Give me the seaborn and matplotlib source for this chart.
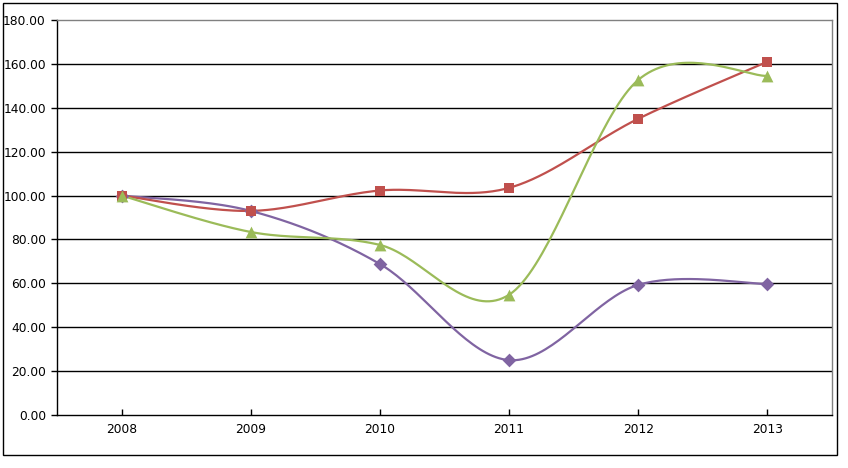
import numpy as np
import pandas as pd
import matplotlib
matplotlib.use("Agg")
import matplotlib.pyplot as plt
import seaborn as sns
from matplotlib.patches import Rectangle

years = ["2008", "2009", "2010", "2011", "2012", "2013"]
purple_vals = [100.0, 93.0, 68.8, 25.0, 59.3, 59.7]
red_vals = [100.0, 93.0, 102.3, 103.5, 135.0, 161.0]
green_vals = [100.0, 83.4, 77.5, 54.8, 152.7, 154.5]


def smooth(y, n=40):
    # excel style smoothing: catmull-rom bezier through the points
    y = np.asarray(y, dtype=float)
    x = np.arange(len(y), dtype=float)
    px = np.concatenate([[x[0]], x, [x[-1]]])
    py = np.concatenate([[y[0]], y, [y[-1]]])
    xs, ys = [], []
    t = np.linspace(0, 1, n)
    for i in range(1, len(px) - 2):
        p0x, p1x, p2x, p3x = px[i - 1], px[i], px[i + 1], px[i + 2]
        p0y, p1y, p2y, p3y = py[i - 1], py[i], py[i + 1], py[i + 2]
        c1x, c1y = p1x + (p2x - p0x) / 6, p1y + (p2y - p0y) / 6
        c2x, c2y = p2x - (p3x - p1x) / 6, p2y - (p3y - p1y) / 6
        bx = (1 - t) ** 3 * p1x + 3 * (1 - t) ** 2 * t * c1x + 3 * (1 - t) * t ** 2 * c2x + t ** 3 * p2x
        by = (1 - t) ** 3 * p1y + 3 * (1 - t) ** 2 * t * c1y + 3 * (1 - t) * t ** 2 * c2y + t ** 3 * p2y
        xs.extend(bx)
        ys.extend(by)
    return np.array(xs), np.array(ys)


sns.set_style("white")
plt.rcParams['font.family'] = ['DejaVu Sans']
plt.rcParams['text.color'] = 'black'
plt.rcParams['xtick.color'] = 'black'
plt.rcParams['ytick.color'] = 'black'

fig = plt.figure(figsize=(8.48, 4.68), dpi=100)
ax = fig.add_axes([57 / 848, 53 / 468, 775 / 848, 395 / 468])

series = [(purple_vals, "#8064A2", "D", 7),
          (red_vals, "#C0504D", "s", 7.5),
          (green_vals, "#9BBB59", "^", 8.5)]

for vals, col, mk, ms in series:
    sx, sy = smooth(vals)
    sns.lineplot(x=sx, y=sy, ax=ax, color=col, linewidth=1.6, sort=False, zorder=3)
    df = pd.DataFrame({"x": np.arange(len(years)), "y": vals})
    sns.scatterplot(data=df, x="x", y="y", ax=ax, color=col, marker=mk,
                    s=ms ** 2, edgecolor=col, linewidth=0, zorder=4)

ax.set_xlim(-0.5, len(years) - 0.5)
ax.set_ylim(0, 180)
ax.set_yticks(np.arange(0, 181, 20))
ax.set_yticklabels([f"{v:.2f}" for v in np.arange(0, 181, 20)])
ax.set_xticks(np.arange(len(years)))
ax.set_xticklabels(years)
ax.set_xlabel("")
ax.set_ylabel("")

for v in np.arange(20, 180, 20):
    ax.axhline(v, color="black", linewidth=1, zorder=1)

ax.spines["left"].set_color("black")
ax.spines["bottom"].set_color("black")
ax.spines["top"].set_color("#808080")
ax.spines["right"].set_color("#808080")
for s in ax.spines.values():
    s.set_linewidth(1)

ax.tick_params(axis="y", direction="out", length=4, width=1, colors="black",
               labelsize=8.8, pad=4, left=True)
ax.tick_params(axis="x", direction="in", length=4, width=1, colors="black",
               labelsize=8.8, pad=6, bottom=True)

fig.patches.append(Rectangle((3 / 848, 13 / 468), 834 / 848, 452 / 468,
                             transform=fig.transFigure, fill=False,
                             edgecolor="black", linewidth=1))

fig.savefig("out.png", dpi=100)
